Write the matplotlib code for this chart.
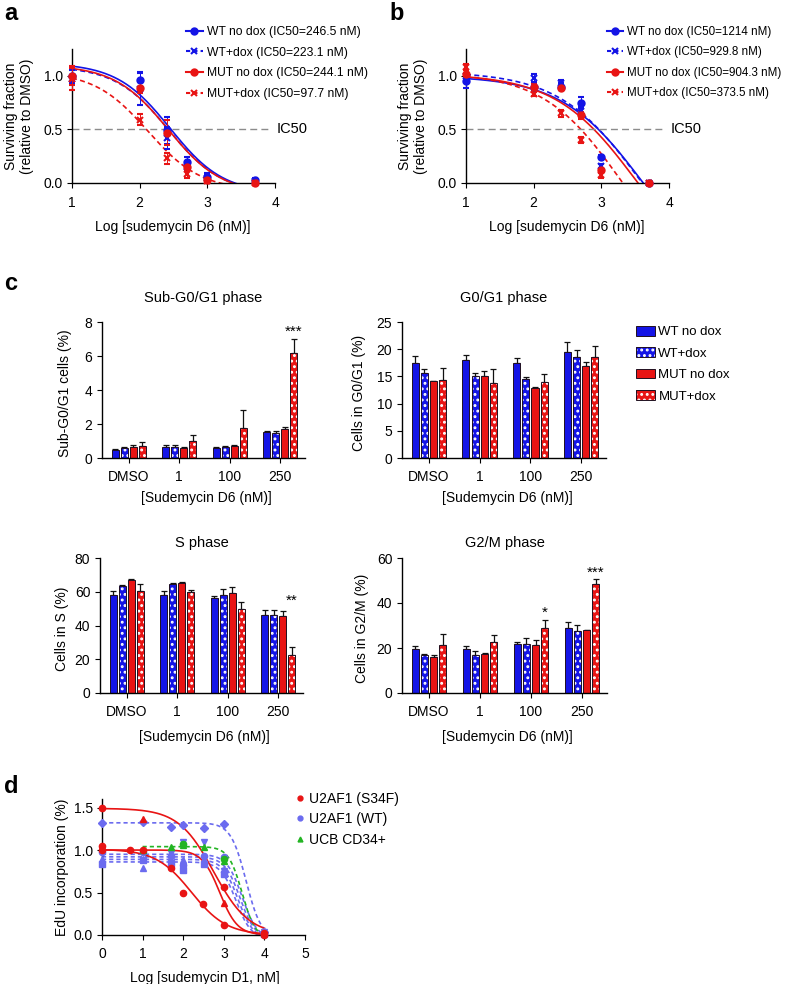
import numpy as np
import matplotlib.pyplot as plt
from matplotlib.patches import Patch
from matplotlib.lines import Line2D

plt.rcParams['font.family'] = ['Liberation Sans', 'DejaVu Sans']
plt.rcParams['hatch.linewidth'] = 1.3
plt.rcParams['axes.linewidth'] = 1.0
plt.rcParams['xtick.major.size'] = 3.5
plt.rcParams['ytick.major.size'] = 3.5
plt.rcParams['xtick.labelsize'] = 10
plt.rcParams['ytick.labelsize'] = 10

BLUE = '#1414e6'
RED = '#e81414'
LBLUE = '#6b6bef'
GREEN = '#22b422'

# ---- panel a / b : dose response ----
log_dose = [1, 2, 2.4, 2.7, 3, 3.7]

a_wt = [1.00, 0.96, 0.49, 0.20, 0.06, 0.03]
a_wt_err = [0.05, 0.08, 0.13, 0.04, 0.03, 0.02]
a_wtdox = [0.97, 0.88, 0.42, 0.15, 0.05, 0.02]
a_wtdox_err = [0.04, 0.15, 0.10, 0.03, 0.02, 0.02]
a_mut = [1.00, 0.89, 0.47, 0.15, 0.03, 0.00]
a_mut_err = [0.09, 0.05, 0.12, 0.04, 0.02, 0.01]
a_mutdox = [0.97, 0.59, 0.23, 0.08, 0.02, 0.00]
a_mutdox_err = [0.10, 0.05, 0.05, 0.03, 0.02, 0.01]
# fitted 4PL parameters: top, bottom, logIC, hill
a_fits = [(1.12, -0.10, 2.45, 1.1), (1.09, -0.10, 2.43, 1.1),
          (1.10, -0.10, 2.42, 1.1), (1.04, -0.07, 2.12, 1.1)]
a_labels = ['WT no dox (IC50=246.5 nM)', 'WT+dox (IC50=223.1 nM)',
            'MUT no dox (IC50=244.1 nM)', 'MUT+dox (IC50=97.7 nM)']

b_wt = [0.95, 0.90, 0.90, 0.75, 0.24, 0.00]
b_wt_err = [0.06, 0.03, 0.03, 0.05, 0.02, 0.01]
b_wtdox = [1.00, 0.98, 0.93, 0.67, 0.16, 0.00]
b_wtdox_err = [0.03, 0.04, 0.03, 0.04, 0.02, 0.01]
b_mut = [1.02, 0.90, 0.89, 0.63, 0.12, 0.00]
b_mut_err = [0.03, 0.02, 0.02, 0.03, 0.02, 0.01]
b_mutdox = [1.08, 0.83, 0.65, 0.40, 0.07, 0.00]
b_mutdox_err = [0.03, 0.02, 0.03, 0.03, 0.02, 0.01]
b_fits = [(1.00, -1.0, 3.62, 0.72), (1.04, -1.0, 3.58, 0.72),
          (1.02, -1.0, 3.53, 0.72), (1.03, -1.0, 3.30, 0.75)]
b_labels = ['WT no dox (IC50=1214 nM)', 'WT+dox (IC50=929.8 nM)',
            'MUT no dox (IC50=904.3 nM)', 'MUT+dox (IC50=373.5 nM)']

# ---- panel c : cell cycle bars ----
conc = ['DMSO', '1', '100', '250']
groups = ['WT no dox', 'WT+dox', 'MUT no dox', 'MUT+dox']

subg = [[0.50, 0.62, 0.60, 1.54], [0.57, 0.62, 0.65, 1.50],
        [0.62, 0.60, 0.70, 1.72], [0.68, 1.02, 1.75, 6.20]]
subg_err = [[0.04, 0.15, 0.05, 0.04], [0.05, 0.13, 0.08, 0.10],
            [0.15, 0.04, 0.08, 0.08], [0.25, 0.35, 1.10, 0.80]]
g0g1 = [[17.5, 18.0, 17.5, 19.4], [15.7, 15.1, 14.6, 18.5],
        [14.1, 15.0, 12.8, 17.0], [14.4, 13.7, 14.0, 18.5]]
g0g1_err = [[1.2, 1.0, 0.8, 2.0], [0.7, 0.5, 0.2, 1.3],
            [0.1, 1.0, 0.2, 0.7], [2.2, 2.7, 1.4, 2.1]]
sph = [[58.3, 58.3, 56.3, 46.4], [63.2, 64.6, 58.3, 46.4],
       [67.2, 65.0, 59.1, 45.5], [60.7, 59.7, 50.0, 22.5]]
sph_err = [[2.0, 2.0, 1.2, 2.8], [1.0, 0.4, 3.6, 2.6],
           [0.4, 0.8, 3.8, 3.2], [4.1, 1.6, 4.1, 4.7]]
g2m = [[19.6, 19.6, 21.8, 28.7], [16.7, 16.9, 21.9, 27.6],
       [16.1, 17.5, 21.3, 28.0], [21.3, 22.8, 28.9, 48.6]]
g2m_err = [[1.2, 1.5, 0.7, 2.7], [0.6, 1.8, 2.4, 2.5],
           [0.9, 0.4, 2.4, 0.2], [5.0, 2.8, 3.6, 2.1]]

# ---- panel d : EdU incorporation ----
d_red_circ_x = [0, 0, 0, 0.7, 1, 1.7, 2, 2.48, 3, 3, 4, 4]
d_red_circ_y = [1.49, 1.05, 1.00, 1.00, 1.00, 0.79, 0.50, 0.36, 0.12, 0.57, 0.02, 0.00]
d_red_tri_x = [1, 3]
d_red_tri_y = [1.36, 0.38]
d_blue_x = [0, 1, 1.7, 2, 2.5, 3, 4]
d_blue_diamond = [1.32, 1.33, 1.27, 1.30, 1.26, 1.31, 0.03]
d_blue_circle = [0.98, 0.98, 0.93, 0.82, 0.93, 0.92, 0.02]
d_blue_square = [0.84, 0.88, 0.85, 0.76, 0.84, 0.72, 0.01]
d_blue_tri = [0.90, 0.79, 0.95, 0.88, 0.90, 0.78, 0.02]
d_blue_inv_x = [1, 1.7, 2, 2.5, 3, 4]
d_blue_inv = [0.97, 0.97, 1.10, 1.10, 0.75, 0.03]
d_green_x = [1, 1.7, 2, 2.5, 3, 4]
d_green_tri = [1.00, 1.03, 1.06, 1.03, 0.87, 0.02]
d_green_circ_x = [2, 3]
d_green_circ = [1.07, 0.90]
# fits: top, bottom, logIC, hill, first x
d_red_fits = [(1.49, 0.0, 2.75, 1.0, 0), (1.00, 0.0, 2.90, 2.0, 0), (1.01, 0.0, 2.20, 1.0, 0)]
d_blue_fits = [(1.32, -0.05, 3.55, 2.3, 0), (0.95, -0.05, 3.45, 2.3, 0),
               (0.92, -0.05, 3.40, 2.3, 0), (0.89, -0.05, 3.35, 2.3, 0),
               (0.86, -0.05, 3.30, 2.3, 0)]
d_green_fits = [(1.04, -0.05, 3.45, 2.6, 1)]


def fpl(x, top, bottom, c, h):
    return bottom + (top - bottom) / (1 + 10 ** (h * (x - c)))


W, H = 788, 984
fig = plt.figure(figsize=(W / 100, H / 100), dpi=100)


def box(l, t, r, b):
    return [l / W, 1 - b / H, (r - l) / W, (b - t) / H]


def ftext(x, y, s, **kw):
    fig.text(x / W, 1 - y / H, s, **kw)


def clean(ax):
    ax.spines['top'].set_visible(False)
    ax.spines['right'].set_visible(False)


# ================= panels a, b =================
styles = [(BLUE, '-', 'o'), (BLUE, '--', 'x'), (RED, '-', 'o'), (RED, '--', 'x')]


def dose_panel(rect, series, errs, fits, labels, leg_x, leg_fs):
    ax = fig.add_axes(box(*rect))
    clean(ax)
    xx = np.linspace(1, 4, 300)
    for (col, ls, mk), y, e, p in zip(styles, series, errs, fits):
        ax.plot(xx, fpl(xx, *p), color=col, ls=ls, lw=1.2, dashes=(3, 2) if ls == '--' else (None, None))
        ax.errorbar(log_dose, y, yerr=e, fmt=mk, color=col, ms=4.5 if mk == 'o' else 5,
                    mew=1.5, elinewidth=0.7, capsize=2, capthick=0.7, clip_on=False, zorder=3)
    ax.plot([1, 3.95], [0.5, 0.5], color='0.55', lw=1.0, dashes=(5, 3))
    ax.text(4.02, 0.5, 'IC50', va='center', ha='left', fontsize=10.5, clip_on=False)
    ax.set_xlim(1, 4)
    ax.set_ylim(0, 1.25)
    ax.set_xticks([1, 2, 3, 4])
    ax.set_yticks([0, 0.5, 1.0])
    ax.set_yticklabels(['0.0', '0.5', '1.0'])
    ax.tick_params(axis='y', pad=3)
    ax.tick_params(axis='x', pad=6)
    handles = [Line2D([], [], color=c, ls=ls, marker=m, ms=4.5, mew=1.5,
                      dashes=(2, 1.5) if ls == '--' else (None, None)) for c, ls, m in styles]
    ax.legend(handles, labels, loc='upper left', bbox_to_anchor=(leg_x / W, 1 - 26 / H),
              bbox_transform=fig.transFigure, frameon=False, fontsize=leg_fs,
              handlelength=1.4, handletextpad=0.35, labelspacing=0.72, borderpad=0, borderaxespad=0)
    return ax


axa = dose_panel((72, 49, 275, 183), [a_wt, a_wtdox, a_mut, a_mutdox],
                 [a_wt_err, a_wtdox_err, a_mut_err, a_mutdox_err], a_fits, a_labels, 186, 8.7)
axb = dose_panel((466, 49, 669, 183), [b_wt, b_wtdox, b_mut, b_mutdox],
                 [b_wt_err, b_wtdox_err, b_mut_err, b_mutdox_err], b_fits, b_labels, 607, 8.4)
for cx in (19, 413):
    ftext(cx, 116, 'Surviving fraction\n(relative to DMSO)', rotation=90, ha='center',
          va='center', fontsize=10, linespacing=1.1)
for cx in (173, 567):
    ftext(cx, 227, 'Log [sudemycin D6 (nM)]', ha='center', va='center', fontsize=10)

# ================= panel c =================
bar_cols = [BLUE, BLUE, RED, RED]
bar_hatch = [None, '...', None, '...']
pitch, bw = 0.18, 0.14


def bar_panel(rect, vals, errs, ylim, yticks, title, title_y, ylabel, ylab_x, xlab_y, stars):
    ax = fig.add_axes(box(*rect))
    clean(ax)
    xs = np.arange(len(conc))
    for i in range(4):
        xpos = xs + (i - 1.5) * pitch
        if bar_hatch[i]:
            ax.bar(xpos, vals[i], bw, color=bar_cols[i], edgecolor='white',
                   hatch=bar_hatch[i], lw=0, zorder=2)
            ax.bar(xpos, vals[i], bw, fill=False, edgecolor='#201020', lw=0.7, zorder=3)
        else:
            ax.bar(xpos, vals[i], bw, color=bar_cols[i], edgecolor='#201020', lw=0.7, zorder=2)
        ax.errorbar(xpos, vals[i], yerr=[np.zeros(4), errs[i]], fmt='none', ecolor='#111111',
                    elinewidth=0.9, capsize=2, capthick=0.9, zorder=1)
    for gi, s, sy in stars:
        ax.text(gi + 1.5 * pitch, sy, s, ha='center', va='center', fontsize=11)
    ax.set_xlim(-0.53, 3.49)
    ax.set_ylim(*ylim)
    ax.set_yticks(yticks)
    ax.set_xticks(xs)
    ax.set_xticklabels(conc)
    ax.tick_params(axis='x', pad=5)
    l, t, r, b = rect
    ftext((l + r) / 2, title_y, title, ha='center', va='center', fontsize=10.5)
    ftext(ylab_x, (t + b) / 2 + 3, ylabel, rotation=90, ha='center', va='center', fontsize=10)
    ftext((l + r) / 2 + 3, xlab_y, '[Sudemycin D6 (nM)]', ha='center', va='center', fontsize=10)
    return ax


bar_panel((102, 322, 305, 458), subg, subg_err, (0, 8), [0, 2, 4, 6, 8],
          'Sub-G0/G1 phase', 298, 'Sub-G0/G1 cells (%)', 65, 498, [(3, '***', 7.4)])
bar_panel((402, 322, 606, 458), g0g1, g0g1_err, (0, 25), [0, 5, 10, 15, 20, 25],
          'G0/G1 phase', 298, 'Cells in G0/G1 (%)', 359, 498, [])
bar_panel((100, 558, 303, 693), sph, sph_err, (0, 80), [0, 20, 40, 60, 80],
          'S phase', 543, 'Cells in S (%)', 62, 737, [(3, '**', 54.5)])
bar_panel((402, 558, 607, 693), g2m, g2m_err, (0, 60), [0, 20, 40, 60],
          'G2/M phase', 543, 'Cells in G2/M (%)', 362, 737, [(2, '*', 35.5), (3, '***', 53.5)])

leg_handles = []
for i in range(4):
    if bar_hatch[i]:
        leg_handles.append((Patch(facecolor=bar_cols[i], edgecolor='white', hatch=bar_hatch[i], lw=0),
                            Patch(fill=False, edgecolor='#201020', lw=0.7)))
    else:
        leg_handles.append(Patch(facecolor=bar_cols[i], edgecolor='#201020', lw=0.7))
fig.legend(leg_handles, groups, loc='upper left', bbox_to_anchor=(636 / W, 1 - 326 / H),
           frameon=False, fontsize=9.5, handlelength=1.45, handleheight=0.75,
           handletextpad=0.25, labelspacing=0.68, borderpad=0, borderaxespad=0)

# ================= panel d =================
axd = fig.add_axes(box(102, 799, 305, 935))
clean(axd)
for p in d_red_fits:
    xx = np.linspace(p[4], 4, 300)
    axd.plot(xx, fpl(xx, *p[:4]), color=RED, lw=1.2, zorder=2)
for p in d_blue_fits:
    xx = np.linspace(p[4], 4, 300)
    axd.plot(xx, fpl(xx, *p[:4]), color=LBLUE, lw=1.2, dashes=(2.5, 1.8), zorder=1)
for p in d_green_fits:
    xx = np.linspace(p[4], 4, 300)
    axd.plot(xx, fpl(xx, *p[:4]), color=GREEN, lw=1.2, dashes=(2.5, 1.8), zorder=1)
mk = dict(ls='none', ms=4.5, clip_on=False, zorder=3)
axd.plot(d_blue_x, d_blue_diamond, marker='D', color=LBLUE, **dict(mk, ms=3.8))
axd.plot(d_blue_x, d_blue_circle, marker='o', color=LBLUE, **mk)
axd.plot(d_blue_x, d_blue_square, marker='s', color=LBLUE, **dict(mk, ms=4))
axd.plot(d_blue_x, d_blue_tri, marker='^', color=LBLUE, **mk)
axd.plot(d_blue_inv_x, d_blue_inv, marker='v', color=LBLUE, **mk)
axd.plot(d_green_x, d_green_tri, marker='^', color=GREEN, **mk)
axd.plot(d_green_circ_x, d_green_circ, marker='o', color=GREEN, **mk)
axd.plot(d_red_circ_x, d_red_circ_y, marker='o', color=RED, **mk)
axd.plot(d_red_tri_x, d_red_tri_y, marker='^', color=RED, **mk)
axd.set_xlim(0, 5)
axd.set_ylim(0, 1.6)
axd.set_xticks([0, 1, 2, 3, 4, 5])
axd.set_yticks([0, 0.5, 1.0, 1.5])
axd.set_yticklabels(['0.0', '0.5', '1.0', '1.5'])
axd.tick_params(axis='y', pad=3)
axd.tick_params(axis='x', pad=5)
ftext(62, 867, 'EdU incorporation (%)', rotation=90, ha='center', va='center', fontsize=10)
ftext(205, 978, 'Log [sudemycin D1, nM]', ha='center', va='center', fontsize=10)
d_handles = [Line2D([], [], ls='none', marker='o', color=RED, ms=3.5),
             Line2D([], [], ls='none', marker='o', color=LBLUE, ms=3.5),
             Line2D([], [], ls='none', marker='^', color=GREEN, ms=3.5)]
fig.legend(d_handles, ['U2AF1 (S34F)', 'U2AF1 (WT)', 'UCB CD34+'], loc='upper left',
           bbox_to_anchor=(294 / W, 1 - 792 / H), frameon=False, fontsize=10,
           handlelength=0.8, handletextpad=0.3, labelspacing=0.45, borderpad=0, borderaxespad=0)

# panel letters
for x, y, s in [(4, 20, 'a'), (389, 20, 'b'), (4, 290, 'c'), (4, 793, 'd')]:
    ftext(x, y, s, fontsize=17, fontweight='bold', va='baseline', ha='left')

fig.savefig('out.png', dpi=100)
